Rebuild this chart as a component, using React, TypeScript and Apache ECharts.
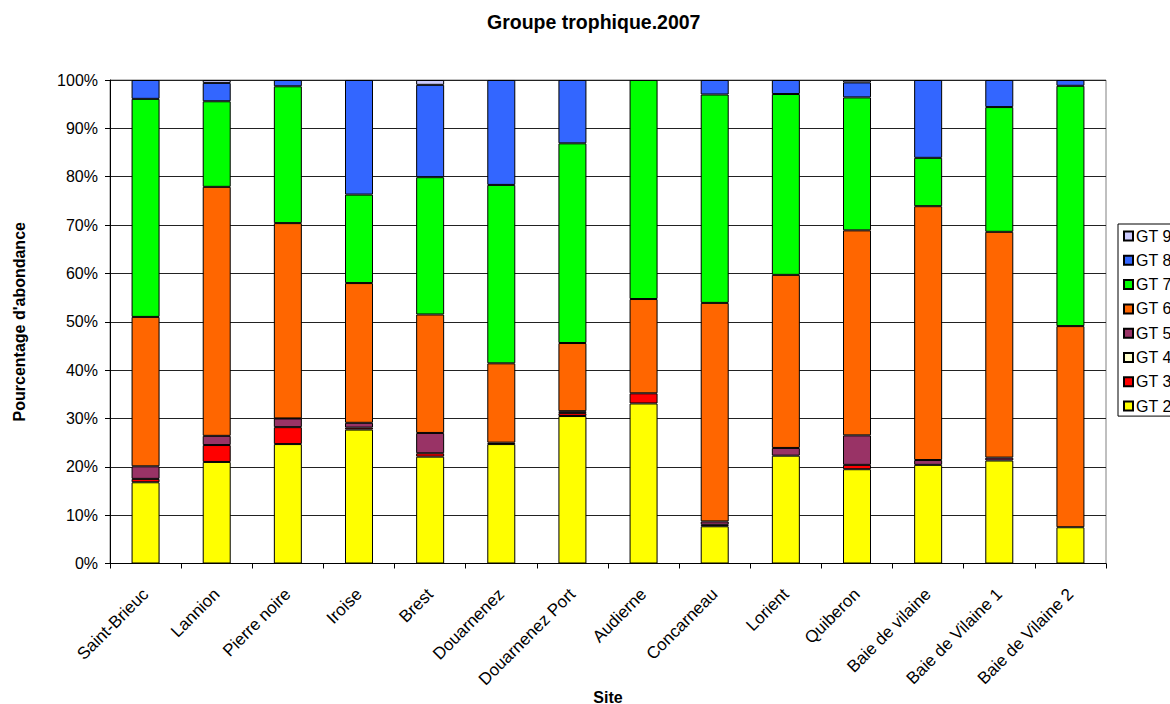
import React, { useEffect, useRef } from "react";
import * as echarts from "echarts";

// Sites sampled in 2007
const sites = [
  "Saint-Brieuc",
  "Lannion",
  "Pierre noire",
  "Iroise",
  "Brest",
  "Douarnenez",
  "Douarnenez Port",
  "Audierne",
  "Concarneau",
  "Lorient",
  "Quiberon",
  "Baie de vilaine",
  "Baie de Vilaine 1",
  "Baie de Vilaine 2",
];

// Relative abundance (%) of each trophic group per site
const gt2 = [16.8, 21.0, 24.7, 27.7, 22.1, 24.7, 30.5, 33.1, 7.7, 22.3, 19.5, 20.4, 21.3, 7.5];
const gt3 = [0.7, 3.5, 3.5, 0.4, 0.7, 0, 0.6, 2.1, 0.3, 0, 0.9, 0, 0, 0];
const gt4 = [0, 0, 0, 0, 0, 0, 0, 0, 0, 0, 0, 0, 0, 0];
const gt5 = [2.6, 1.9, 1.8, 1.0, 4.2, 0.3, 0.4, 0, 0.7, 1.6, 6.1, 1.0, 0.6, 0];
const gt6 = [30.9, 51.5, 40.4, 28.9, 24.5, 16.4, 14.1, 19.5, 45.2, 35.8, 42.4, 52.5, 46.7, 41.6];
const gt7 = [45.1, 17.7, 28.3, 18.3, 28.4, 36.9, 41.3, 45.3, 43.1, 37.4, 27.5, 10.0, 25.8, 49.7];
const gt8 = [3.9, 3.8, 1.3, 23.7, 19.1, 21.7, 13.1, 0, 3.0, 2.9, 3.1, 16.1, 5.6, 1.2];
const gt9 = [0, 0.6, 0, 0, 1.0, 0, 0, 0, 0, 0, 0.5, 0, 0, 0];

const groupNames = ["GT 2", "GT 3", "GT 4", "GT 5", "GT 6", "GT 7", "GT 8", "GT 9"];
const groupValues = [gt2, gt3, gt4, gt5, gt6, gt7, gt8, gt9];
const groupColors = ["#FFFF00", "#FF0000", "#FFFFCC", "#993366", "#FF6600", "#00FF00", "#3366FF", "#CCCCFF"];

const yTicks = [0, 10, 20, 30, 40, 50, 60, 70, 80, 90, 100];

const FONT = "'Liberation Sans', Arial, Helvetica, sans-serif";

export default function App() {
  const ref = useRef<HTMLDivElement>(null);

  useEffect(() => {
    if (!ref.current) return;
    const chart = echarts.init(ref.current, null, { renderer: "svg" });

    const series = groupNames.map((name, i) => ({
      name,
      type: "bar",
      stack: "total",
      barWidth: 28,
      itemStyle: { color: groupColors[i], borderColor: "#000", borderWidth: 1 },
      // empty segments are left out so they don't draw a stray outline
      data: groupValues[i].map((v) => (v === 0 ? null : v)),
    }));

    chart.setOption({
      animation: false,
      backgroundColor: "#fff",
      textStyle: { fontFamily: FONT },
      title: {
        text: "Groupe trophique.2007",
        left: 482,
        top: 7,
        textStyle: { fontFamily: FONT, fontSize: 19.5, fontWeight: "bold", color: "#000" },
      },
      legend: {
        orient: "vertical",
        left: 1118,
        top: 224,
        data: [...groupNames].reverse(),
        itemWidth: 9,
        itemHeight: 9,
        itemGap: 8.3,
        padding: [4, 6, 2, 5],
        borderColor: "#000",
        borderWidth: 1,
        backgroundColor: "#fff",
        icon: "rect",
        textStyle: { fontFamily: FONT, fontSize: 16, color: "#000", padding: [0, 0, 0, -2] },
      },
      grid: {
        left: 110,
        right: 64,
        top: 80,
        bottom: 140.5,
        show: true,
        borderColor: "#808080",
        borderWidth: 1,
        containLabel: false,
        outerBoundsMode: "none",
      },
      xAxis: {
        type: "category",
        data: sites,
        name: "Site",
        nameLocation: "middle",
        nameGap: 125.5,
        nameMoveOverlap: false,
        nameTextStyle: { fontFamily: FONT, fontSize: 16, fontWeight: "bold", color: "#000" },
        axisLine: { lineStyle: { color: "#000", width: 1 } },
        axisTick: { show: true, length: 5, lineStyle: { color: "#000" } },
        axisLabel: {
          rotate: 45,
          interval: 0,
          margin: 28,
          fontFamily: FONT,
          fontSize: 17,
          color: "#000",
        },
      },
      yAxis: {
        type: "value",
        min: yTicks[0],
        max: yTicks[yTicks.length - 1],
        interval: 10,
        name: "Pourcentage d'abondance",
        nameLocation: "middle",
        nameGap: 83,
        nameMoveOverlap: false,
        nameTextStyle: { fontFamily: FONT, fontSize: 16, fontWeight: "bold", color: "#000" },
        axisLine: { show: true, lineStyle: { color: "#000", width: 1 } },
        axisTick: { show: true, length: 5, lineStyle: { color: "#000" } },
        axisLabel: {
          formatter: "{value}%",
          margin: 12,
          fontFamily: FONT,
          fontSize: 16,
          color: "#000",
        },
        splitLine: { show: true, lineStyle: { color: "#222", width: 1 } },
      },
      series,
    });

    return () => chart.dispose();
  }, []);

  return (
    <div
      ref={ref}
      style={{ position: "absolute", left: 0, top: 0, width: 1170, height: 704, overflow: "hidden" }}
    />
  );
}
